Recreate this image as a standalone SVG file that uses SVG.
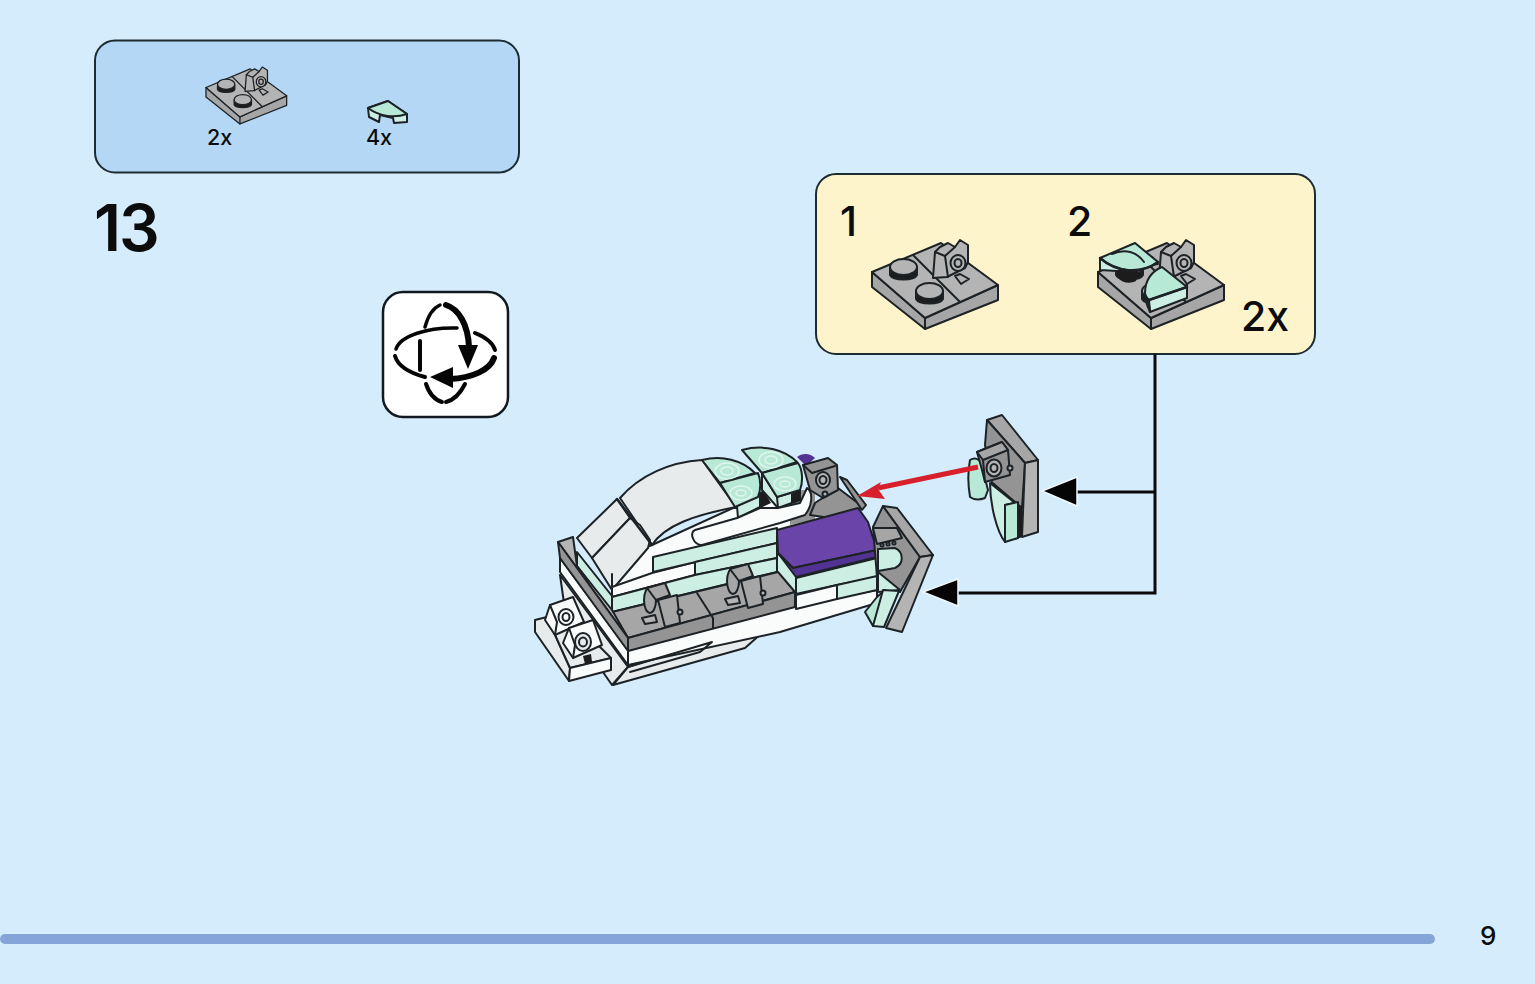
<svg xmlns="http://www.w3.org/2000/svg" xmlns:xlink="http://www.w3.org/1999/xlink" width="1535" height="984" viewBox="0 0 1535 984">
<style>
text{font-family:Inter,"Noto Sans","Liberation Sans",sans-serif;font-weight:500;fill:#0c0c0c}
.l{stroke:#1c2226;stroke-width:2;stroke-linejoin:round;stroke-linecap:round}
.n{fill:none}
.g{fill:#a6a6a6}.d{fill:#949494}.c{fill:#b4b4b4}
.w{fill:#fafcfc}.e{fill:#e8ebec}
.m{fill:#cdeee2}.t{fill:#b8e8d6}.k{fill:#1c1c1c}
.p{fill:#6a44a8}.q{fill:#523293}
.r{fill:none;stroke:#dff6ee;stroke-width:1.500}
.box{stroke:#1d2b33;stroke-width:2}
.conn{fill:none;stroke:#0a0a0a;stroke-width:3}
.head{fill:#050505;stroke:#f2fafe;stroke-width:1.5}
.ic{fill:none;stroke:#050505;stroke-width:4;stroke-linecap:round}
</style>
<defs>
<g id="plate">
<polygon class="l g" points="872,272 872,287 925,329 998,300 998,285 925,318"/>
<polygon class="l c" points="872,272 941,243 998,285 925,318"/>
<polyline class="l n" points="925,318 925,329"/>
<polyline class="l n" points="913,255 960,302"/>
<path class="l k" d="M890,268v7c3,6 24,6 27,0v-7z"/>
<ellipse class="l c" cx="903.500" cy="267" rx="13.500" ry="8"/>
<path class="l k" d="M916,291v8c3,6 24,6 27,0v-8z"/>
<ellipse class="l c" cx="929.500" cy="291" rx="13.500" ry="8"/>
<polygon class="l c" points="933,278 935,252 940,247 948,243 955,247 960,240 968,245 968,262 965,268 947,277"/>
<polyline class="l n" points="935,252 945,256 955,247"/>
<polyline class="l n" points="945,256 948,277"/>
<ellipse class="l c" cx="958" cy="263" rx="7.500" ry="8"/>
<ellipse class="l n" cx="958" cy="263" rx="3.500" ry="4"/>
<polygon class="l c" points="955,276 960,274 969,279 961,284"/>
</g>
<g id="tile">
<polygon class="l m" points="368,108 388,101 407,114 407,122 394,123 393,118 380,115 379,122 369,117"/>
<path class="l t" d="M368,108 388,101 407,114C395,118 380,117 368,108Z"/>
</g>
<g id="hinge">
<ellipse class="l g" cx="0" cy="0" rx="6" ry="13"/>
<polygon class="l g" points="-3,-12 15,-17 20,-5 6,0"/>
<polygon class="l g" points="8,0 27,-5 30,23 15,27"/>
<polygon class="l c" points="-8,18 5,15 7,22 -5,24"/>
<circle class="l c" cx="30" cy="12" r="2.500"/>
</g>
</defs>
<rect width="1535" height="984" fill="#d4ecfb"/>

<g id="parts-list">
<rect class="box" x="95" y="40.500" width="424" height="132" rx="20" fill="#b3d7f4"/>
<use xlink:href="#plate" href="#plate" transform="translate(-352.080,-86.600) scale(.64)"/>
<use xlink:href="#tile" href="#tile"/>
<text x="207" y="145" font-size="21.500">2x</text>
<text x="366" y="145" font-size="21.500">4x</text>
</g>

<g id="step-number"><text x="94" y="251" font-size="64" letter-spacing="-2" style="font-weight:600">13</text></g>

<g id="rotate-icon">
<rect x="383" y="292" width="125" height="125" rx="20" fill="#fff" stroke="#101820" stroke-width="2.500"/>
<path class="ic" style="stroke-width:3.500" d="M425,327C428,316 433,308 440,305"/>
<path class="ic" style="stroke-width:6" d="M446,305C459,309 468,325 469,347"/>
<polygon fill="#050505" points="468,369 458,345 478,345"/>
<path class="ic" style="stroke-width:3.500" d="M396,349C400,336 428,327 457,328"/>
<path class="ic" d="M475,333C485,337 493,343 495,350"/>
<path class="ic" d="M395,356C398,366 410,373 425,377"/>
<path class="ic" d="M420,341V370"/>
<path class="ic" d="M426,384C429,393 435,400 442,402"/>
<path class="ic" d="M446,402C454,400 461,392 465,384"/>
<path class="ic" style="stroke-width:6" d="M494,358C490,370 472,378 450,379"/>
<polygon fill="#050505" points="430,377 453,367 453,388"/>
</g>

<g id="callout">
<rect class="box" x="816" y="174" width="499" height="180" rx="20" fill="#fdf4cb"/>
<text x="840" y="236" font-size="41">1</text>
<text x="1067" y="236" font-size="41">2</text>
<text x="1241" y="331" font-size="41">2x</text>
<g id="substep-1"><use xlink:href="#plate" href="#plate"/></g>
<g id="substep-2">
<use xlink:href="#plate" href="#plate" transform="translate(226,0)"/>
<polygon class="l m" points="1100,258 1100,270 1117,271 1158,264 1152,257"/>
<path class="k" d="M1117,270h22l-3,11c-6,3-14,2-18,-3z"/>
<path class="l t" d="M1100,258 1135,243 1158,262C1140,275 1116,272 1100,258Z"/>
<path class="l n" d="M1112,254C1125,248 1137,252 1144,262"/>
<path class="l n" style="stroke-width:2.500" d="M1100,258C1116,272 1140,275 1158,262"/>
<polygon class="l m" points="1148,298 1187,285 1187,298 1150,312"/>
<path class="l t" d="M1145,293C1145,280 1152,271 1162,267L1187,287 1149,300C1147,298 1145,296 1145,293Z"/>
<polyline class="l n" style="stroke-width:2.500" points="1149,300 1187,287"/>
<path class="l n" d="M1149,300 1150,312C1147,306 1145,300 1145,293"/>
</g>
</g>

<g id="connectors">
<polyline class="conn" points="1155,354 1155,593 958,593"/>
<line class="conn" x1="1155" y1="492" x2="1075" y2="492"/>
<polygon class="head" points="1042,491 1077,477 1077,506"/>
<polygon class="head" points="923,592 958,579 958,606"/>
</g>

<g id="sub-assembly-loose">
<polygon class="l g" points="987,420 1002,415 1038,460 1025,463"/>
<polygon class="l d" points="987,420 1025,463 1022,508 992,483 985,445"/>
<polygon class="l c" points="1025,463 1038,460 1038,532 1022,537"/>
<polygon class="k" points="993,482 1022,507 1022,537 1015,540 1000,505"/>
<path class="l t" d="M970,460C975,457 979,459 981,463L988,490 985,498C980,500 974,500 970,497C968,485 968,470 970,460Z"/>
<path class="l m" d="M990,483 1015,503 1005,505 1005,542C997,532 990,505 990,483Z"/>
<polygon class="l t" points="1005,505 1018,502 1018,538 1005,542"/>
<polygon class="l d" points="977,452 1002,442 1008,450 1010,475 985,482 982,470"/>
<polygon class="l g" points="977,452 1002,442 1008,450 983,460"/>
<polyline class="l n" points="983,460 985,482"/>
<ellipse class="l c" cx="994" cy="468" rx="7.500" ry="8.500"/>
<ellipse class="l n" cx="994" cy="468" rx="3.500" ry="4"/>
<circle class="l c" cx="1010" cy="468" r="2.500"/>
</g>

<g id="model">
<polygon class="m" points="578,600 612,650 612,665 590,640"/>
<polygon class="l e" points="560,575 628,667 612,685 605,675 565,610"/>
<polygon class="l e" points="628,667 780,617 745,648 613,685"/>
<polygon class="l w" points="628,650 795,605 877,590 877,603 780,632 628,665"/>
<polyline class="l n" points="628,667 712,642 700,652 630,672"/>
<polygon class="l w" points="560,558 628,650 628,665 560,572"/>
<polygon class="l w" points="612,596 612,560 652,545 733,508 760,508 800,502 810,500 810,520 777,575 630,625"/>
<polygon class="d" points="790,490 815,490 815,520 790,525"/>
<path class="l e" d="M620,498C640,475 670,462 702,460L736,507C695,515 665,525 652,545Z"/>
<polygon class="l m" points="577,552 612,596 612,612 577,566"/>
<polygon class="l e" points="577,538 617,499 630,518 592,558"/>
<polygon class="l e" points="592,558 630,518 640,525 650,540 648,548 612,590"/>
<polyline class="l n" points="612,574 612,596"/>
<polyline class="l" style="stroke-width:2.500;fill:none" points="617,499 652,545"/>
<polygon class="l w" points="612,587 652,573 695,562 695,575 612,597"/>
<polygon class="l m" points="653,557 777,528 777,543 653,572"/>
<polygon class="l m" points="695,562 777,543 777,558 695,575"/>
<polygon class="l m" points="612,597 695,575 777,558 777,572 612,612"/>
<polygon class="w" points="755,495 765,488 782,506 758,512"/>
<polygon class="k" points="755,497 763,490 771,503 758,509"/>
<polygon class="l m" points="737,506 760,493 760,507 738,518"/>
<path class="l t" d="M702,460C722,455 742,460 755,473L720,483Z"/>
<path class="l t" d="M720,483 758,473C761,480 761,490 758,497L735,507Z"/>
<polygon class="l m" points="777,497 800,490 800,500 778,508 762,490 762,473"/>
<polygon class="k" points="791,494 800,490 800,500 791,503"/>
<path class="l t" d="M742,450C765,444 785,450 797,462L762,473Z"/>
<path class="l t" d="M762,473 798,463C803,470 803,482 800,490L777,497Z"/>
<polyline class="l n" points="777,497 778,508"/>
<ellipse class="r" cx="727" cy="471" rx="12" ry="8"/><ellipse class="r" cx="727" cy="471" rx="6" ry="4"/>
<ellipse class="r" cx="741" cy="493" rx="11" ry="7"/><ellipse class="r" cx="741" cy="493" rx="5" ry="3"/>
<ellipse class="r" cx="771" cy="460" rx="12" ry="8"/><ellipse class="r" cx="771" cy="460" rx="6" ry="4"/>
<ellipse class="r" cx="785" cy="484" rx="11" ry="7"/><ellipse class="r" cx="785" cy="484" rx="5" ry="3"/>
<path class="l w" d="M695,530 737,518 760,508 778,508 800,503 807,488C813,492 813,505 805,515L780,523 702,545C693,545 689,532 695,530Z"/>
<path class="q" d="M797,457C802,453 810,453 815,458L806,466Z"/>
<polygon class="l d" points="810,515 815,503 838,488 863,507 857,510 830,518"/>
<polygon class="l d" points="840,477 847,480 866,505 862,510"/>
<polygon class="l d" points="803,465 828,458 837,465 838,490 823,498 810,490"/>
<polyline class="l n" points="803,465 812,473 835,466"/>
<ellipse class="l c" cx="823" cy="480" rx="7" ry="8"/>
<ellipse class="l n" cx="823" cy="480" rx="3.500" ry="4"/>
<circle class="l c" cx="825" cy="494" r="2.500"/>
<polygon class="l m" points="777,552 796,574 796,595 777,575"/>
<polygon class="l m" points="796,578 877,558 877,577 837,585 796,594"/>
<polygon class="l w" points="796,595 837,585 837,599 796,609"/>
<polygon class="l m" points="837,585 877,576 877,590 837,599"/>
<polygon class="l p" points="777,530 858,508 868,522 877,550 793,568 778,553"/>
<polygon class="l q" points="778,553 793,568 877,550 877,557 796,577"/>
<polygon class="l g" points="612,612 778,572 795,592 628,638"/>
<polygon class="l d" points="628,638 795,592 795,607 628,651"/>
<polyline class="l n" points="697,593 713,618 713,628"/>
<polygon class="l c" points="558,542 573,537 577,566 612,610 628,638"/>
<polygon class="l d" points="558,542 628,638 628,651 560,558"/>
<use xlink:href="#hinge" href="#hinge" transform="translate(650,600)"/>
<use xlink:href="#hinge" href="#hinge" transform="translate(733,581)"/>
<polygon class="l e" points="535,620 547,617 570,668 569,681 535,632"/>
<polygon class="l e" points="547,617 565,612 611,658 570,668"/>
<polygon class="l w" points="570,668 611,658 611,670 569,681"/>
<polygon class="l w" points="550,605 573,597 584,622 555,635 545,620"/>
<polyline class="l n" points="550,605 557,622 555,635"/>
<ellipse class="l n" cx="566" cy="617" rx="7.500" ry="8"/>
<ellipse class="l n" cx="566" cy="617" rx="3.500" ry="4"/>
<polygon class="l w" points="569,628 593,620 602,645 573,658 563,643"/>
<polyline class="l n" points="569,628 575,645 573,658"/>
<ellipse class="l e" cx="583" cy="642" rx="8" ry="9"/>
<ellipse class="l n" cx="583" cy="642" rx="4" ry="4.500"/>
<polygon class="k" points="583,656 591,654 592,662 585,664"/>
</g>

<g id="sub-assembly-mounted">
<polygon class="l d" points="883,506 873,527 878,590 900,592 920,557"/>
<polygon class="l g" points="883,506 897,508 933,555 920,557"/>
<polygon class="l c" points="920,557 933,555 902,632 886,628"/>
<polygon class="l g" points="873,528 897,528 902,538 877,544"/>
<path class="l m" d="M878,549 895,548C904,552 904,564 895,568L878,571Z"/>
<circle class="l w" cx="882" cy="545" r="1.500"/><circle class="l w" cx="888" cy="544" r="1.500"/><circle class="l w" cx="894" cy="543" r="1.500"/>
<polygon class="l m" points="878,572 900,590 878,592"/>
<polygon class="l t" points="877,597 885,590 873,626 865,612"/>
<polygon class="l m" points="883,590 899,591 884,627 873,626"/>
</g>

<g id="insert-arrow">
<line x1="978" y1="467" x2="878" y2="488" stroke="#d7202c" stroke-width="5"/>
<polygon fill="#d7202c" points="857,496 881,482 878,489 885,499"/>
</g>

<g id="page-footer">
<rect x="0" y="934" width="1435" height="10" rx="5" fill="#85a5d8"/>
<text x="1480" y="945" font-size="26">9</text>
</g>
</svg>
